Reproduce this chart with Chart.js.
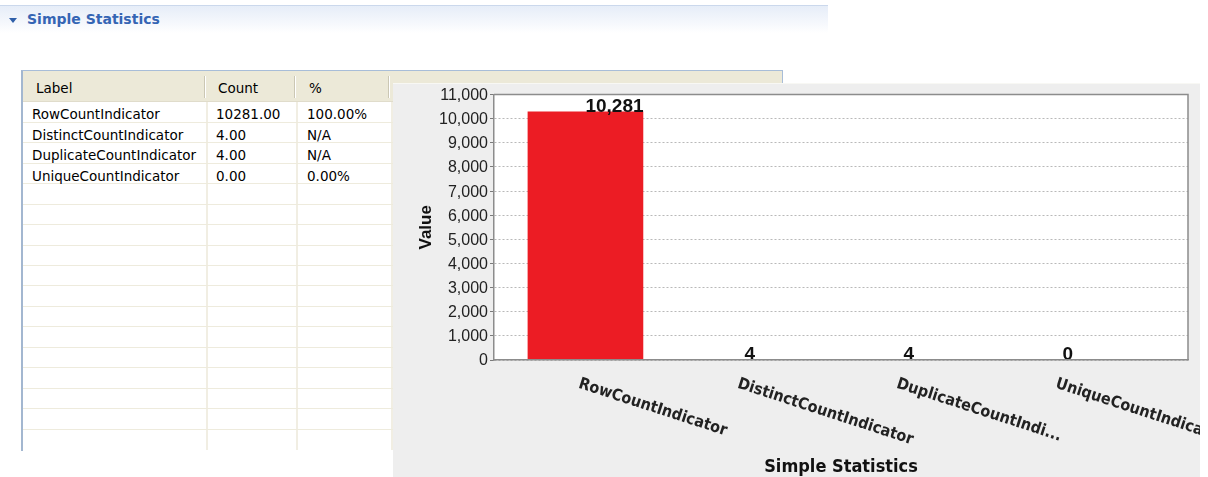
<!DOCTYPE html>
<html>
<head>
<meta charset="utf-8">
<script src="https://cdn.jsdelivr.net/npm/chart.js@4/dist/chart.umd.min.js"></script>
<style>
  body { margin: 0; width: 1208px; height: 477px; background: #fff; position: relative; overflow: hidden;
         font-family: "DejaVu Sans", sans-serif; }
  #sec { position: absolute; left: 0; top: 5px; width: 828px; height: 27px; border-top: 1px solid #cbd8ec;
         background: linear-gradient(#e6edf8, #f7f9fd 70%, #fff); }
  #sec .tri { position: absolute; left: 9px; top: 12px; width: 0; height: 0; border-left: 4.5px solid transparent;
              border-right: 4.5px solid transparent; border-top: 5px solid #2f5fa9; }
  #sec .txt { position: absolute; left: 27px; top: 3px; font: bold 14px "DejaVu Sans", sans-serif; color: #3565b4; line-height: 20px; }
  #tbl { position: absolute; left: 21px; top: 70px; width: 759px; height: 380px; background: #fff;
         border-top: 1px solid #a8bdd8; border-left: 2px solid #a3b7d0; border-right: 1px solid #a8bdd8; }
  .hd { position: absolute; left: 23px; top: 71px; width: 759px; height: 31px; background: #ece9d8;
        border-bottom: 1px solid #e0dccb; box-sizing: border-box; }
  .hsep { position: absolute; top: 76px; width: 1px; height: 22px; background: #cbc7b4; box-shadow: 1px 0 0 #fff; }
  .row { position: absolute; left: 23px; width: 759px; box-sizing: border-box; border-bottom: 1px solid #eeebdd; }
  .vsep { position: absolute; top: 102px; width: 2px; height: 348px; background: #f1eee3; }
  .cell { position: absolute; font-size: 13.5px; line-height: 20px; color: #000; white-space: nowrap; }
  #panel { position: absolute; left: 393px; top: 83px; width: 807px; height: 394px; background: #eeeeee;
           z-index: 5; border-top: 1px solid #f8f8f4; box-sizing: border-box; }
  #panel canvas { position: absolute; left: 0; top: -1px; }
</style>
</head>
<body>
<div id="sec"><span class="tri"></span><span class="txt">Simple Statistics</span></div>
<div id="tbl"></div>
<div id="panel"><canvas id="chart" width="807" height="394"></canvas></div>
<script>
// indicator names, values and the % column
var labels = ["RowCountIndicator", "DistinctCountIndicator", "DuplicateCountIndicator", "UniqueCountIndicator"];
var counts = [10281, 4, 4, 0];
var percents = ["100.00%", "N/A", "N/A", "0.00%"];
// category labels as the chart shows them (one is cut short)
var tickLabels = ["RowCountIndicator", "DistinctCountIndicator", "DuplicateCountIndi...", "UniqueCountIndicator"];
var headers = ["Label", "Count", "%"];
var yMax = 11000;
var yStep = 1000;

// ---- the table on the left ----
(function () {
  var body = document.body;
  var hd = document.createElement("div");
  hd.className = "hd";
  body.appendChild(hd);
  var headX = [36, 218, 309];
  headers.forEach(function (h, i) {
    var s = document.createElement("span");
    s.className = "cell";
    s.style.left = headX[i] + "px";
    s.style.top = "78px";
    s.textContent = h;
    body.appendChild(s);
  });
  [204, 294, 388].forEach(function (x) {
    var d = document.createElement("div");
    d.className = "hsep";
    d.style.left = x + "px";
    body.appendChild(d);
  });
  [206, 296, 391].forEach(function (x) {
    var d = document.createElement("div");
    d.className = "vsep";
    d.style.left = x + "px";
    body.appendChild(d);
  });
  var rowH = 20.46;
  var cellX = [32, 216, 307];
  for (var r = 0; r < 17; r++) {
    var top = 102.3 + r * rowH;
    var row = document.createElement("div");
    row.className = "row";
    row.style.top = top + "px";
    row.style.height = (r < 16 ? rowH : 450 - top) + "px";
    if (r === 16) row.style.borderBottom = "none";
    body.appendChild(row);
    if (r < labels.length) {
      [labels[r], counts[r].toFixed(2), percents[r]].forEach(function (t, i) {
        var s = document.createElement("span");
        s.className = "cell";
        s.style.left = cellX[i] + "px";
        s.style.top = (top + 2) + "px";
        s.textContent = t;
        body.appendChild(s);
      });
    }
  }
})();

// ---- the bar chart ----
var narrowFont = '"DejaVu Sans Condensed", "Liberation Sans Narrow", "DejaVu Sans", sans-serif';

// white plot background and the grey frame round it
var plotFrame = {
  id: "plotFrame",
  beforeDraw: function (chart) {
    var a = chart.chartArea, ctx = chart.ctx;
    ctx.save();
    ctx.fillStyle = "#ffffff";
    ctx.fillRect(a.left, a.top, a.right - a.left, a.bottom - a.top);
    ctx.restore();
  },
  afterDraw: function (chart) {
    var a = chart.chartArea, ctx = chart.ctx;
    ctx.save();
    ctx.strokeStyle = "#8c8c8c";
    ctx.lineWidth = 1.5;
    ctx.beginPath();
    ctx.moveTo(a.left, a.top);
    ctx.lineTo(a.right, a.top);
    ctx.lineTo(a.right, a.bottom);
    ctx.stroke();
    ctx.restore();
  }
};

// value above each bar
var valueLabels = {
  id: "valueLabels",
  afterDatasetsDraw: function (chart) {
    var ctx = chart.ctx;
    var meta = chart.getDatasetMeta(0);
    ctx.save();
    ctx.font = 'bold 19px "Liberation Sans", Arial, sans-serif';
    ctx.fillStyle = "#111";
    ctx.textAlign = "left";
    ctx.textBaseline = "alphabetic";
    meta.data.forEach(function (bar, i) {
      ctx.fillText(counts[i].toLocaleString("en-US"), bar.x, bar.y);
    });
    ctx.restore();
  }
};

// category names, turned down to the right
var categoryLabels = {
  id: "categoryLabels",
  afterDraw: function (chart) {
    var ctx = chart.ctx, x = chart.scales.x, a = chart.chartArea;
    ctx.save();
    ctx.font = "bold 16px " + narrowFont;
    ctx.fillStyle = "#222";
    ctx.textAlign = "left";
    ctx.textBaseline = "top";
    tickLabels.forEach(function (t, i) {
      ctx.save();
      ctx.translate(x.getPixelForValue(i) - 4, a.bottom + 16);
      ctx.rotate(Math.PI / 10);
      ctx.fillText(t, 0, 0);
      ctx.restore();
    });
    ctx.restore();
  }
};

new Chart(document.getElementById("chart"), {
  type: "bar",
  data: {
    datasets: [{
      data: counts.map(function (v, i) { return { x: i, y: v }; }),
      backgroundColor: "#ec1c24",
      borderWidth: 0,
      barThickness: 115
    }]
  },
  options: {
    responsive: false,
    animation: false,
    events: [],
    layout: { padding: { top: 8.5, right: 12, left: 0, bottom: 0 } },
    plugins: { legend: { display: false }, tooltip: { enabled: false } },
    scales: {
      x: {
        type: "linear",
        offset: false,
        min: -0.575,
        max: 3.789,
        grid: { display: false },
        ticks: { display: false },
        border: { color: "#8c8c8c", width: 1.5, z: 1 },
        title: {
          display: true,
          text: "Simple Statistics",
          color: "#111",
          font: { family: narrowFont, size: 18, weight: "bold", lineHeight: 1.05 },
          padding: { top: 0, bottom: 0 }
        },
        afterFit: function (s) { s.height = 117; }
      },
      y: {
        min: 0,
        max: yMax,
        ticks: {
          stepSize: yStep,
          color: "#222",
          padding: 2,
          labelOffset: 1,
          font: { family: '"Liberation Sans", Arial, sans-serif', size: 16 },
          callback: function (v) { return v.toLocaleString("en-US"); }
        },
        grid: { color: "#b9b9b9", lineWidth: 1, tickLength: 4, tickColor: "#7a7a7a", tickBorderDash: [] },
        border: { color: "#8c8c8c", width: 1.5, dash: [2, 2] },
        title: {
          display: true,
          text: "Value",
          color: "#111",
          font: { family: '"Liberation Sans", Arial, sans-serif', size: 17, weight: "bold" },
          padding: { top: 23, bottom: 0 }
        },
        afterFit: function (s) { s.width = 101; }
      }
    }
  },
  plugins: [plotFrame, valueLabels, categoryLabels]
});
</script>
</body>
</html>
